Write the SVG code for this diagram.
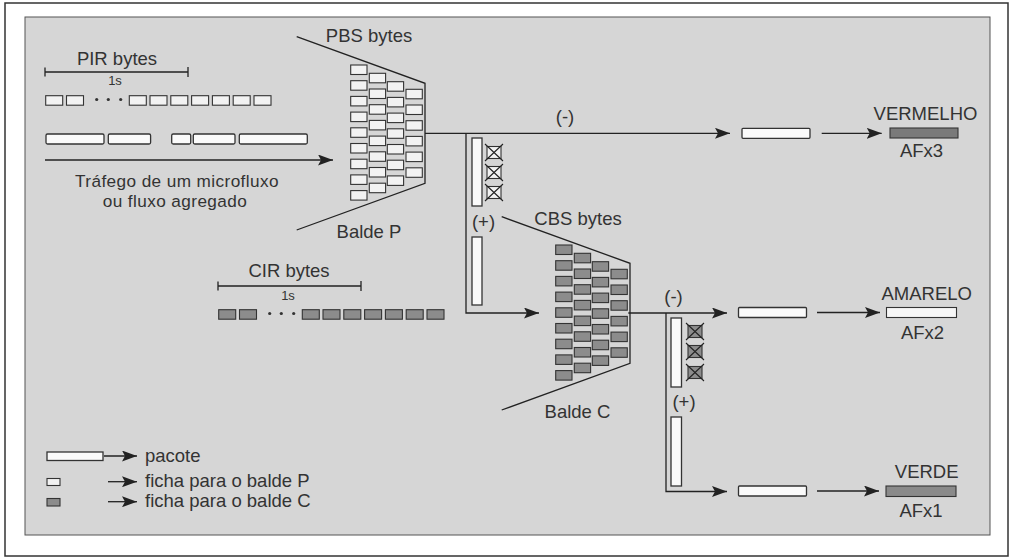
<svg xmlns="http://www.w3.org/2000/svg" xmlns:xlink="http://www.w3.org/1999/xlink" width="1011" height="558" viewBox="0 0 1011 558">
<style>
  text { font-family: "Liberation Sans", Arial, Helvetica, sans-serif; font-size: 18.5px; fill: #333; }
  .mid { text-anchor: middle; }
  .small { font-size: 13px; }
  .tl { font-size: 17.2px; letter-spacing: 0.4px; }
  .ln { stroke: #222; stroke-width: 1.3; fill: none; }
  .arr { stroke: #222; stroke-width: 1.3; fill: none; marker-end: url(#ah); }
  .pkt { fill: #fafafa; stroke: #333; stroke-width: 1.3; }
  .tokP { fill: #f2f2f2; stroke: #333; stroke-width: 1.1; }
  .tokC { fill: #8c8c8c; stroke: #333; stroke-width: 1.1; }
</style>
<defs>
  <marker id="ah" viewBox="0 0 15 11" refX="15" refY="5.5" markerWidth="15" markerHeight="11" markerUnits="userSpaceOnUse" orient="auto">
    <path d="M0,0 L15,5.5 L0,11 L3,5.5 z" fill="#222"/>
  </marker>
  <g id="bucketBody">
    <polyline points="0,0 128.3,46.6 128.3,146.6 0,193.3" fill="none" stroke="#222" stroke-width="1.3"/>
    <g stroke="#333" stroke-width="1.1">
      <rect x="54" y="28.3" width="16.3" height="9.5"/>
      <rect x="54" y="44" width="16.3" height="9.5"/>
      <rect x="54" y="59.7" width="16.3" height="9.5"/>
      <rect x="54" y="75.4" width="16.3" height="9.5"/>
      <rect x="54" y="91.1" width="16.3" height="9.5"/>
      <rect x="54" y="106.8" width="16.3" height="9.5"/>
      <rect x="54" y="122.5" width="16.3" height="9.5"/>
      <rect x="54" y="138.2" width="16.3" height="9.5"/>
      <rect x="54" y="153.9" width="16.3" height="9.5"/>
      <rect x="72.6" y="36.6" width="16.3" height="9.5"/>
      <rect x="72.6" y="52.3" width="16.3" height="9.5"/>
      <rect x="72.6" y="68" width="16.3" height="9.5"/>
      <rect x="72.6" y="83.7" width="16.3" height="9.5"/>
      <rect x="72.6" y="99.4" width="16.3" height="9.5"/>
      <rect x="72.6" y="115.1" width="16.3" height="9.5"/>
      <rect x="72.6" y="130.8" width="16.3" height="9.5"/>
      <rect x="72.6" y="146.5" width="16.3" height="9.5"/>
      <rect x="90.6" y="45" width="16.3" height="9.5"/>
      <rect x="90.6" y="60.7" width="16.3" height="9.5"/>
      <rect x="90.6" y="76.4" width="16.3" height="9.5"/>
      <rect x="90.6" y="92.1" width="16.3" height="9.5"/>
      <rect x="90.6" y="107.8" width="16.3" height="9.5"/>
      <rect x="90.6" y="123.5" width="16.3" height="9.5"/>
      <rect x="90.6" y="139.2" width="16.3" height="9.5"/>
      <rect x="109.3" y="52.6" width="16.3" height="9.5"/>
      <rect x="109.3" y="68.3" width="16.3" height="9.5"/>
      <rect x="109.3" y="84" width="16.3" height="9.5"/>
      <rect x="109.3" y="99.7" width="16.3" height="9.5"/>
      <rect x="109.3" y="115.4" width="16.3" height="9.5"/>
      <rect x="109.3" y="131.1" width="16.3" height="9.5"/>
    </g>
  </g>
  <g id="scaleRow">
    <path d="M0,0 H143 M0,-4.5 V4.5 M143,-5 V5" fill="none" stroke="#222" stroke-width="1.3"/>
    <g stroke="#333" stroke-width="1.1">
      <rect x="0.7" y="23.7" width="17" height="9.5"/>
      <rect x="21.5" y="23.7" width="17" height="9.5"/>
      <rect x="84.3" y="23.7" width="17" height="9.5"/>
      <rect x="105" y="23.7" width="17" height="9.5"/>
      <rect x="125.8" y="23.7" width="17" height="9.5"/>
      <rect x="146.6" y="23.7" width="17" height="9.5"/>
      <rect x="167.4" y="23.7" width="17" height="9.5"/>
      <rect x="188.2" y="23.7" width="17" height="9.5"/>
      <rect x="209" y="23.7" width="17" height="9.5"/>
    </g>
    <g fill="#333">
      <circle cx="51.7" cy="27.5" r="1.6"/>
      <circle cx="63.3" cy="27.5" r="1.6"/>
      <circle cx="75.7" cy="27.5" r="1.6"/>
    </g>
  </g>
  <g id="crossTok">
    <rect x="2" y="2.5" width="14" height="12" stroke="#333" stroke-width="1.1"/>
    <path d="M0,0 L18,17 M18,0 L0,17" stroke="#222" stroke-width="1.1" fill="none"/>
  </g>
</defs>

<g id="frame">
  <rect x="5" y="3" width="1003" height="553" fill="#ffffff" stroke="#333" stroke-width="1.5"/>
  <rect x="25" y="17" width="965" height="518" fill="#d6d6d6" stroke="#555" stroke-width="1"/>
</g>

<g id="connectors">
  <path class="arr" d="M45,160 H333"/>
  <path class="arr" d="M425,133.3 H730"/>
  <path class="arr" d="M466,133.3 V313 H539"/>
  <path class="arr" d="M821.7,133.3 H881.7"/>
  <path class="arr" d="M628.3,313 H727"/>
  <path class="arr" d="M666,313 V491.5 H727"/>
  <path class="arr" d="M817,312.5 H880"/>
  <path class="arr" d="M817,491 H879"/>
</g>

<g id="pir">
  <use xlink:href="#scaleRow" href="#scaleRow" x="45" y="72" fill="#f2f2f2"/>
  <text class="mid" x="117" y="65">PIR bytes</text>
  <text class="mid small" x="115" y="85">1s</text>
</g>

<g id="traffic">
  <rect class="pkt" x="46" y="134" width="58" height="10" rx="1.5"/>
  <rect class="pkt" x="108.3" y="134" width="42.3" height="10" rx="1.5"/>
  <rect class="pkt" x="171.7" y="134" width="19" height="10" rx="1.5"/>
  <rect class="pkt" x="193.3" y="134" width="41.7" height="10" rx="1.5"/>
  <rect class="pkt" x="239.3" y="134" width="68" height="10" rx="1.5"/>
  <text class="mid tl" x="177" y="186.5">Tráfego de um microfluxo</text>
  <text class="mid tl" x="175" y="206.5">ou fluxo agregado</text>
</g>

<g id="baldeP">
  <use xlink:href="#bucketBody" href="#bucketBody" x="296.7" y="36.7" fill="#f2f2f2"/>
  <text class="mid" x="369" y="42">PBS bytes</text>
  <text class="mid" x="369" y="238">Balde P</text>
</g>

<g id="branchP">
  <text class="mid" x="565" y="122.5">(-)</text>
  <rect class="pkt" x="472" y="138" width="10" height="68"/>
  <use xlink:href="#crossTok" href="#crossTok" x="485" y="144" fill="#f2f2f2"/>
  <use xlink:href="#crossTok" href="#crossTok" x="485" y="164" fill="#f2f2f2"/>
  <use xlink:href="#crossTok" href="#crossTok" x="485" y="184" fill="#f2f2f2"/>
  <text class="mid" x="483.5" y="228">(+)</text>
  <rect class="pkt" x="472" y="237" width="10" height="68"/>
</g>

<g id="cir">
  <use xlink:href="#scaleRow" href="#scaleRow" x="218" y="286" fill="#8c8c8c"/>
  <text class="mid" x="289" y="277">CIR bytes</text>
  <text class="mid small" x="288" y="300">1s</text>
</g>

<g id="baldeC">
  <use xlink:href="#bucketBody" href="#bucketBody" x="501.7" y="216.7" fill="#8c8c8c"/>
  <text class="mid" x="578" y="225">CBS bytes</text>
  <text class="mid" x="577.5" y="418">Balde C</text>
</g>

<g id="branchC">
  <text class="mid" x="673.5" y="302.5">(-)</text>
  <rect class="pkt" x="671" y="318" width="10.5" height="69"/>
  <use xlink:href="#crossTok" href="#crossTok" x="686" y="323" fill="#8c8c8c"/>
  <use xlink:href="#crossTok" href="#crossTok" x="686" y="343" fill="#8c8c8c"/>
  <use xlink:href="#crossTok" href="#crossTok" x="686" y="364" fill="#8c8c8c"/>
  <text class="mid" x="684" y="408">(+)</text>
  <rect class="pkt" x="671" y="417" width="10.5" height="69"/>
</g>

<g id="pkt-red"><rect class="pkt" x="742" y="128.3" width="68" height="10" rx="1"/></g>
<g id="pkt-yellow"><rect class="pkt" x="738.5" y="307.5" width="68" height="10" rx="1"/></g>
<g id="pkt-green"><rect class="pkt" x="738.5" y="486" width="68" height="10" rx="1"/></g>

<g id="vermelho">
  <text class="mid" x="925.5" y="119.5">VERMELHO</text>
  <rect x="890" y="128" width="68" height="10" fill="#7a7a7a" stroke="#333" stroke-width="1.1"/>
  <text class="mid" x="921.5" y="157">AFx3</text>
</g>
<g id="amarelo">
  <text class="mid" x="926.7" y="300">AMARELO</text>
  <rect x="886.5" y="307.5" width="70" height="10" fill="#f6f6f6" stroke="#333" stroke-width="1.1"/>
  <text class="mid" x="922.5" y="338.5">AFx2</text>
</g>
<g id="verde">
  <text class="mid" x="926.7" y="477.5">VERDE</text>
  <rect x="886" y="486" width="70" height="10.5" fill="#8a8a8a" stroke="#333" stroke-width="1.1"/>
  <text class="mid" x="921" y="517">AFx1</text>
</g>

<g id="legend">
  <rect class="pkt" x="47" y="452" width="56" height="8.5"/>
  <path class="arr" d="M104,456 H137"/>
  <text x="145" y="461.7">pacote</text>
  <rect class="tokP" x="47" y="478.5" width="13" height="7"/>
  <path class="arr" d="M108,481.7 H137"/>
  <text x="145" y="487.3">ficha para o balde P</text>
  <rect class="tokC" x="47" y="498.5" width="13" height="7.5"/>
  <path class="arr" d="M108,501.7 H137"/>
  <text x="145" y="507.3">ficha para o balde C</text>
</g>
</svg>
